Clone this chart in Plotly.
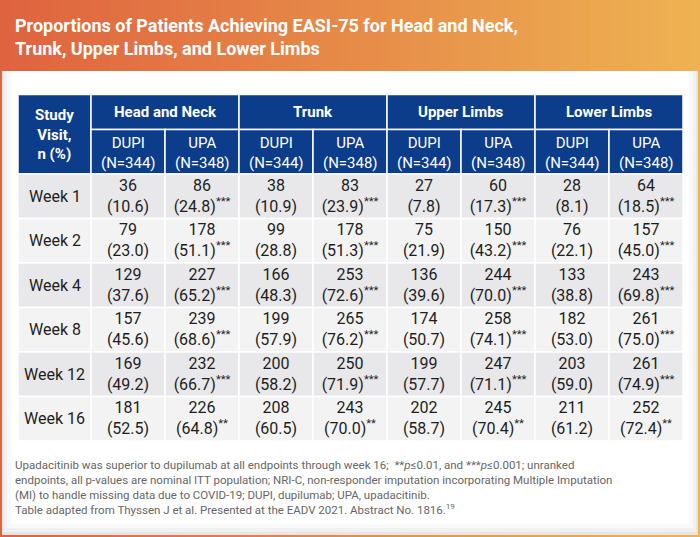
import plotly.graph_objects as go

# ---------------- data ----------------
weeks = ["Week 1", "Week 2", "Week 4", "Week 8", "Week 12", "Week 16"]
regions = ["Head and Neck", "Trunk", "Upper Limbs", "Lower Limbs"]
arms = ["DUPI", "UPA"]
arm_n = ["344", "348"]

head_dupi_n = [36, 79, 129, 157, 169, 181]
head_dupi_pct = [10.6, 23.0, 37.6, 45.6, 49.2, 52.5]
head_upa_n = [86, 178, 227, 239, 232, 226]
head_upa_pct = [24.8, 51.1, 65.2, 68.6, 66.7, 64.8]

trunk_dupi_n = [38, 99, 166, 199, 200, 208]
trunk_dupi_pct = [10.9, 28.8, 48.3, 57.9, 58.2, 60.5]
trunk_upa_n = [83, 178, 253, 265, 250, 243]
trunk_upa_pct = [23.9, 51.3, 72.6, 76.2, 71.9, 70.0]

upper_dupi_n = [27, 75, 136, 174, 199, 202]
upper_dupi_pct = [7.8, 21.9, 39.6, 50.7, 57.7, 58.7]
upper_upa_n = [60, 150, 244, 258, 247, 245]
upper_upa_pct = [17.3, 43.2, 70.0, 74.1, 71.1, 70.4]

lower_dupi_n = [28, 76, 133, 182, 203, 211]
lower_dupi_pct = [8.1, 22.1, 38.8, 53.0, 59.0, 61.2]
lower_upa_n = [64, 157, 243, 261, 261, 252]
lower_upa_pct = [18.5, 45.0, 69.8, 75.0, 74.9, 72.4]

upa_sig = ["***", "***", "***", "***", "***", "**"]

title_text = ("Proportions of Patients Achieving EASI-75 for Head and Neck,<br>"
              "Trunk, Upper Limbs, and Lower Limbs")
footnote_text = ("Upadacitinib was superior to dupilumab at all endpoints through week 16;  **<i>p</i>≤0.01, and ***<i>p</i>≤0.001; unranked<br>"
                 "endpoints, all p-values are nominal ITT population; NRI-C, non-responder imputation incorporating Multiple Imputation<br>"
                 "(MI) to handle missing data due to COVID-19; DUPI, dupilumab; UPA, upadacitinib.<br>"
                 "Table adapted from Thyssen J et al. Presented at the EADV 2021. Abstract No. 1816.<sup>19</sup>")

# ---------------- styling ----------------
W, H = 700, 537
FONT = "Roboto, Arial, sans-serif"
NAVY = "#0c3d8b"
ROW_DARK = "#e8e7ea"
ROW_LIGHT = "#f3f3f3"
TXT = "#1e1e1e"

table_x0, study_w, col_w = 18, 73, 74
table_y0 = 94.5
hdr1_h, hdr2_h, row_h = 35, 44.5, 44.5

shapes = []
annotations = []

# gradient background (orange)
c0 = (223, 99, 63)
c1 = (238, 178, 82)
nslices = 70
for i in range(nslices):
    t = i / (nslices - 1)
    col = tuple(round(c0[k] + (c1[k] - c0[k]) * t) for k in range(3))
    shapes.append(dict(type="rect", xref="x", yref="y",
                       x0=W * i / nslices, x1=W * (i + 1) / nslices + 0.5, y0=0, y1=H,
                       fillcolor="rgb(%d,%d,%d)" % col, line=dict(width=0), layer="below"))
# white panel with soft shadow
shapes.append(dict(type="rect", xref="x", yref="y", x0=2, x1=698, y0=71, y1=535,
                   fillcolor="#e6e6e6", line=dict(width=0), layer="below"))
shapes.append(dict(type="rect", xref="x", yref="y", x0=4, x1=696, y0=71, y1=532,
                   fillcolor="#f1f1f1", line=dict(width=0), layer="below"))
shapes.append(dict(type="rect", xref="x", yref="y", x0=7, x1=693, y0=71, y1=528,
                   fillcolor="#f9f9f9", line=dict(width=0), layer="below"))
shapes.append(dict(type="rect", xref="x", yref="y", x0=11, x1=689, y0=71, y1=524,
                   fillcolor="#ffffff", line=dict(width=0), layer="below"))


def cell(x0, x1, y0, y1, fill):
    shapes.append(dict(type="rect", xref="x", yref="y", x0=x0, x1=x1, y0=y0, y1=y1,
                       fillcolor=fill, line=dict(color="white", width=1.5), layer="below"))


def text(x, y, s, size, color, bold=False, xanchor="center", yanchor="middle", align="center"):
    if bold:
        s = "<b>" + s.replace("<br>", "</b><br><b>") + "</b>"
    annotations.append(dict(x=x, y=y, xref="x", yref="y", text=s, showarrow=False,
                            xanchor=xanchor, yanchor=yanchor, align=align,
                            font=dict(family=FONT, size=size, color=color)))


# header
hy0 = table_y0
hy1 = hy0 + hdr1_h
hy2 = hy1 + hdr2_h
cell(table_x0, table_x0 + study_w, hy0, hy2, NAVY)
text(table_x0 + study_w / 2, (hy0 + hy2) / 2, "Study<br>Visit,<br>n (%)", 15, "white", bold=True)
for r, reg in enumerate(regions):
    rx0 = table_x0 + study_w + r * 2 * col_w
    cell(rx0, rx0 + 2 * col_w, hy0, hy1, NAVY)
    text(rx0 + col_w, (hy0 + hy1) / 2, reg, 15, "white", bold=True)
    for a in range(2):
        ax0 = rx0 + a * col_w
        cell(ax0, ax0 + col_w, hy1, hy2, NAVY)
        text(ax0 + col_w / 2, (hy1 + hy2) / 2 + 1, "%s<br>(N=%s)" % (arms[a], arm_n[a]), 15, "white")

# body
columns = [
    (head_dupi_n, head_dupi_pct, False), (head_upa_n, head_upa_pct, True),
    (trunk_dupi_n, trunk_dupi_pct, False), (trunk_upa_n, trunk_upa_pct, True),
    (upper_dupi_n, upper_dupi_pct, False), (upper_upa_n, upper_upa_pct, True),
    (lower_dupi_n, lower_dupi_pct, False), (lower_upa_n, lower_upa_pct, True),
]
cx, cy, ctext = [], [], []
for i, wk in enumerate(weeks):
    y0 = hy2 + i * row_h
    y1 = y0 + row_h
    fill = ROW_DARK if i % 2 == 0 else ROW_LIGHT
    cell(table_x0, table_x0 + study_w, y0, y1, fill)
    text(table_x0 + study_w / 2, (y0 + y1) / 2, wk, 16, TXT)
    for j, (ns, ps, is_upa) in enumerate(columns):
        x0 = table_x0 + study_w + j * col_w
        cell(x0, x0 + col_w, y0, y1, fill)
        s = "%d<br>(%.1f)" % (ns[i], ps[i])
        if is_upa:
            s += "<sup>%s</sup>" % upa_sig[i]
        cx.append(x0 + col_w / 2)
        cy.append((y0 + y1) / 2 + 1)
        ctext.append(s)

fig = go.Figure()
fig.add_trace(go.Scatter(x=cx, y=cy, text=ctext, mode="text", textposition="middle center",
                         textfont=dict(family=FONT, size=16, color=TXT),
                         hoverinfo="skip", showlegend=False))

# title and footnote
text(13, 37, title_text, 18, "white", bold=True, xanchor="left", yanchor="middle", align="left")
text(13, 456, footnote_text, 11.5, "#666666", xanchor="left", yanchor="top", align="left")

fig.update_layout(
    width=W, height=H, margin=dict(l=0, r=0, t=0, b=0),
    paper_bgcolor="white", plot_bgcolor="white",
    xaxis=dict(range=[0, W], visible=False, fixedrange=True),
    yaxis=dict(range=[H, 0], visible=False, fixedrange=True),
    shapes=shapes, annotations=annotations, showlegend=False,
)
fig.write_html("out.html", config={"displayModeBar": False, "staticPlot": True},
               post_script="document.body.style.margin='0';document.body.style.overflow='hidden';")
